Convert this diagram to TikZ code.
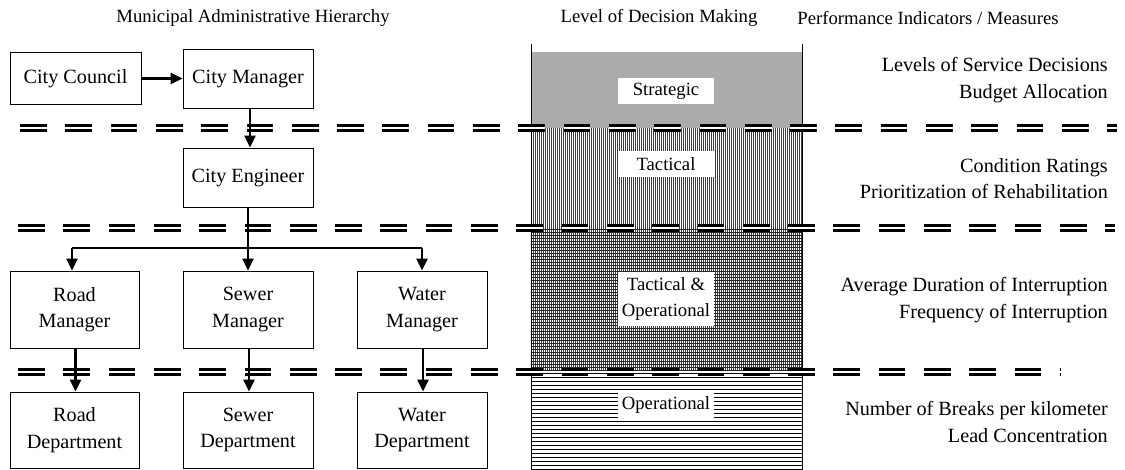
\documentclass[tikz,border=0pt]{standalone}
\usepackage{fontspec}
\setmainfont{Liberation Serif}
\usetikzlibrary{arrows.meta}
\begin{document}
\begin{tikzpicture}[x=1pt,y=-1pt,
  txt/.style={font=\fontsize{18.7}{26}\selectfont, inner sep=0pt},
  bigtxt/.style={font=\fontsize{20.2}{26.5}\selectfont, inner sep=0pt},
  unit/.style={draw, line width=0.8pt, bigtxt, align=center, minimum width=130pt},
  lvl/.style={fill=white, txt, align=center, minimum width=96pt, minimum height=26pt, inner sep=2pt},
  sep/.style={double, line width=2.6pt, double distance=2pt, dash pattern=on 26.7pt off 18.6pt},
  thinlink/.style={line width=1.1pt},
  arr/.style={line width=2.6pt, -{Triangle[length=12pt,width=11pt]}},
  colborder/.style={line width=1pt},
  hatch/.style={line width=1pt},
]
\useasboundingbox (0,0) rectangle (1125,470);

% column headings
\node[txt] (h1) at (253,18) {Municipal Administrative Hierarchy};
\node[txt] (h2) at (659,18) {Level of Decision Making};
\node[txt] (h3) at (928,18) {Performance Indicators / Measures};

% decision-level column: strategic band, fine stipple shown as grey
\fill[black!33] (531,52) rectangle (802,128);
% tactical band, vertical rules
\foreach \x in {531,533,...,801}
  \draw[hatch, black!75] (\x+0.5,128) -- (\x+0.5,228);
% tactical & operational band, grid
\foreach \x in {531,533,...,801}
  \draw[hatch, black!75] (\x+0.5,228) -- (\x+0.5,371);
\foreach \y in {229,232,...,370}
  \draw[hatch, black!85] (531,\y+0.5) -- (802,\y+0.5);
% operational band, horizontal rules
\foreach \y in {373,377,...,469}
  \draw[hatch, black] (531,\y+0.5) -- (802,\y+0.5);
\draw[colborder] (531,44) -- (531,470);
\draw[colborder] (802,44) -- (802,470);

% level separators
\draw[sep] (20,128) -- (1117,128);
\draw[sep] (18,228) -- (1115,228);
\draw[sep] (18,372) -- (1061,372);

% decision levels
\node[lvl] (ls) at (666,91.5) {Strategic};
\node[lvl] (lt) at (666,164) {Tactical};
\node[lvl, minimum height=54pt] (lto) at (666,299) {Tactical \&\\Operational};
\node[lvl] (lo) at (666,405.5) {Operational};

% performance indicators
\node[bigtxt, align=right, anchor=east] (m1) at (1108,80) {Levels of Service Decisions\\Budget Allocation};
\node[bigtxt, align=right, anchor=east] (m2) at (1108,178.5) {Condition Ratings\\Prioritization of Rehabilitation};
\node[bigtxt, align=right, anchor=east] (m3) at (1108,300) {Average Duration of Interruption\\Frequency of Interruption};
\node[bigtxt, align=right, anchor=east] (m4) at (1108,422) {Number of Breaks per kilometer\\Lead Concentration};

% administrative hierarchy
\node[unit, minimum height=52pt, minimum width=131pt] (cc) at (75.5,78.5) {City Council};
\node[unit, minimum height=59pt] (cm) at (248,78.5) {City Manager};
\node[unit, minimum height=59pt] (ce) at (248,177.5) {City Engineer};
\node[unit, minimum height=77pt, minimum width=129pt] (rm) at (74.5,309.5) {Road\\Manager};
\node[unit, minimum height=77pt] (sm) at (248,309.5) {Sewer\\Manager};
\node[unit, minimum height=77pt] (wm) at (422,309.5) {Water\\Manager};
\node[unit, minimum height=76pt, minimum width=129pt] (rd) at (74.5,430) {Road\\Department};
\node[unit, minimum height=76pt] (sd) at (248,430) {Sewer\\Department};
\node[unit, minimum height=76pt] (wd) at (422,430) {Water\\Department};

\draw[arr] (cc.east) -- (cm.west);
\draw[arr] ([xshift=2pt]cm.south) -- ([xshift=2pt]ce.north);

\coordinate (bl) at (72,248);
\coordinate (bw) at (422,248);
\draw[thinlink] (ce.south) -- (ce.south |- bl);
\draw[thinlink] (bl) -- (bw);
\draw[arr] (bl) -- (bl |- rm.north);
\draw[arr] (ce.south |- bl) -- (sm.north);
\draw[arr] (bw) -- (wm.north);

\draw[arr] ([xshift=1pt]rm.south) -- ([xshift=1pt]rd.north);
\draw[arr] ([xshift=1pt]sm.south) -- ([xshift=1pt]sd.north);
\draw[arr] ([xshift=1pt]wm.south) -- ([xshift=1pt]wd.north);
\end{tikzpicture}
\end{document}
